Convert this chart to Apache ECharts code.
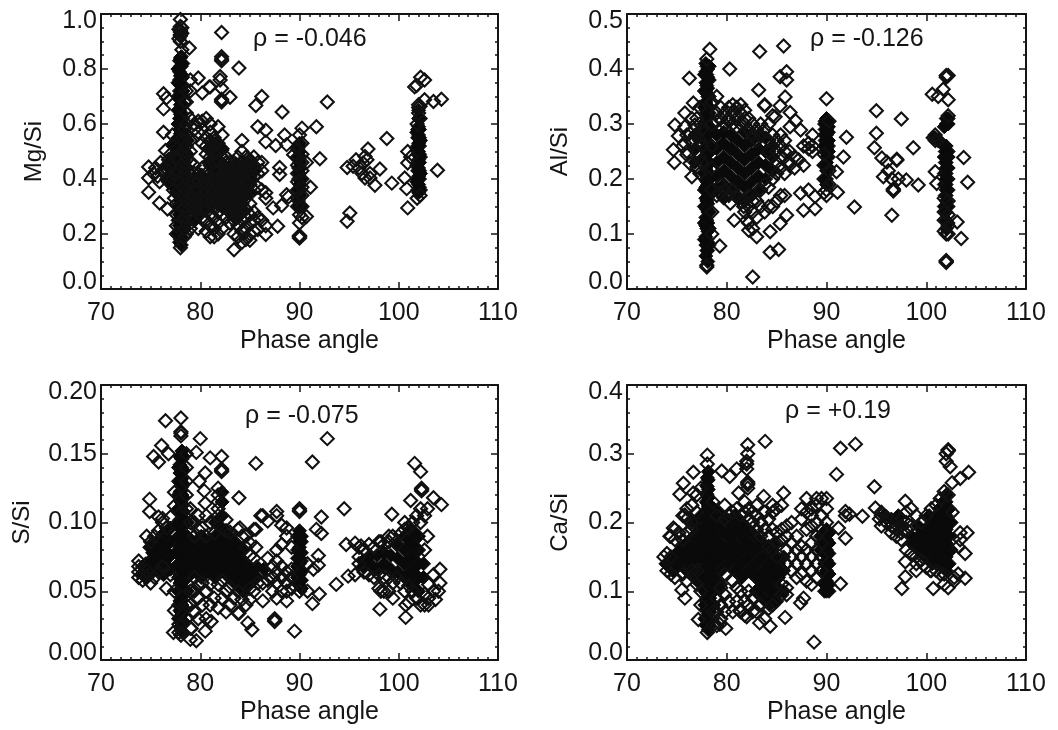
<!DOCTYPE html>
<html><head><meta charset="utf-8">
<style>html,body{margin:0;padding:0;background:#fff}#c{width:1058px;height:730px;filter:blur(0.5px)}</style>
<script src="https://cdn.jsdelivr.net/npm/echarts@6/dist/echarts.min.js"></script></head>
<body><div id="c"></div>
<script>
// every row: [phase angle, value, value, ...]
// *Core rows are the overplotted parts of the clouds, where the marks merge into solid black
const xTicks=[70,80,90,100,110];
const mgCore=[
[77.9,.17,.2,.23,.27,.3,.34,.37,.41,.44,.48,.51,.55,.58,.62,.65,.69,.72,.76,.79,.83],[78.1,.16,.19,.22,.25,.29,.32,.36,.39,.43,.46,.5,.53,.57,.6,.64,.67,.71,.74,.78,.81,.845],
[78,.18,.215,.25,.285,.32,.355,.39,.425,.46,.495,.53,.565,.6,.635,.67,.705,.74,.775,.81,.84],[77.75,.2,.25,.3,.35,.4,.45,.5,.55,.6,.65,.7,.75,.8],[78.25,.22,.27,.32,.37,.42,.47,.52,.57,.62,.67,.72,.77,.82],
[76.6,.4,.45],[77.2,.375,.425,.475,.525],[78.7,.24,.29,.34,.39,.44,.49,.54],[79.4,.25,.3,.35,.4],[80.1,.275,.325,.375,.415],[80.8,.3,.35,.4,.46,.51],[81.5,.325,.375,.43,.48,.53],[82.2,.3,.35,.4,.455,.505],[82.9,.28,.33,.38,.43],[83.6,.255,.305,.355,.405,.455],[84.3,.28,.33,.38,.43],[85,.35,.4,.45],[85.5,.43],
[90,.3,.34,.38,.42,.46,.5,.53],[89.9,.32,.36,.4,.44,.48,.52],[90.1,.3,.36,.4,.44,.48],[102,.35,.38,.41,.44,.47,.5,.53,.56,.59,.62,.65],[102.2,.36,.42,.48,.54],[101.8,.39,.45,.51,.57],[102.1,.37,.4,.43,.46,.49,.52,.55,.58],[101.9,.36,.4,.43,.46,.49,.52,.55,.58]
];
const mgCloud=[
[77.6,.2,.23,.27,.31,.35,.39,.43,.47,.51],[78.4,.19,.22,.26,.3,.34,.38,.42,.46,.5,.54,.58,.68],[78,.15,.9,.925,.94,.955,.98,.935,.92],[77.85,.91,.945],[78.15,.87,.93,.95],
[90,.19,.19,.195,.185,.24,.27,.56],[89.8,.3,.33,.36,.39,.42,.45,.48,.51],[90.25,.26,.3,.34,.37,.4,.43,.46,.49,.53,.585],[102,.64,.66,.67],[102.15,.62,.665,.34],[101.85,.33,.6],
[75.3,.42],[75.5,.44],[75.7,.41],[75.9,.39],[76,.46],[76.2,.43],[76.5,.44],[76.8,.47,.43,.39],[77,.49],[77.1,.45],[77.2,.4,.56],[77.3,.52,.36],[77.4,.33],[77.5,.48,.42],
[78.6,.2,.24,.28,.32,.36,.4,.44,.48,.52,.56,.6,.64,.68,.72],[79,.22,.26,.3,.34,.38,.42,.46,.5,.54,.62,.72,.76],
[79.4,.25,.29,.31,.33,.36,.39,.42,.45,.58,.6],[79.8,.22,.27,.3,.33,.36,.39,.42,.57,.61,.767],[80.2,.26,.29,.32,.35,.38,.41,.44,.53,.58,.61,.713],
[80.6,.21,.25,.29,.32,.35,.38,.42,.49,.52,.55,.62],[81,.19,.23,.27,.31,.34,.37,.4,.45,.48,.51,.54,.57,.6,.735],
[81.4,.19,.22,.26,.3,.33,.36,.39,.43,.46,.49,.52,.55],[81.8,.2,.24,.28,.31,.34,.37,.4,.43,.47,.5,.53,.59],
[82.2,.22,.27,.3,.33,.36,.39,.42,.45,.48,.51,.56],[82.6,.26,.3,.32,.34,.36,.38,.4,.42,.44,.46,.48],[83,.24,.28,.3,.32,.34,.36,.38,.4,.42,.44,.46,.697],
[83.4,.143,.2,.25,.28,.3,.32,.34,.36,.38,.4,.42,.44,.46],[83.8,.19,.23,.27,.3,.32,.34,.36,.38,.4,.42,.45,.48],[84.2,.17,.21,.25,.28,.31,.34,.37,.4,.43,.46,.5,.54],
[84.6,.18,.22,.26,.29,.33,.36,.39,.42,.45,.48],[85,.177,.2,.24,.27,.31,.35,.38,.41,.44,.46,.47],[85.4,.21,.25,.28,.36,.41,.45,.48],[85.8,.216,.26,.37,.42,.46,.59],[86.2,.25,.36,.43,.46,.7],[86.6,.198,.23,.35,.33,.535,.577],
[78.9,.876],[82.15,.933,.836,.83,.845,.73,.69,.68,.685],[83.9,.804],[82,.773,.76],[80.9,.735],[76.3,.71,.655,.57],[76.6,.695],[76.5,.504],[74.8,.444,.404,.352],[75.9,.313],[76.7,.291],
[85.6,.667],[88.25,.644],[92.8,.68],[91.7,.59],[87.6,.522],[88.5,.56],[88.7,.525,.343],[92.05,.474],[89.4,.488],[88,.442,.416],[91.1,.37],[88.9,.335],[88.2,.304],[87.35,.295],[87.8,.228],
[90.7,.264,.46],[94.8,.442,.246],[95.07,.276],[95.7,.47],[95.4,.446],[96.9,.509],[96.6,.482,.404],[96.4,.458],[96,.44],[96.3,.42],[97.1,.404,.42],[97.6,.377],[98.1,.436],[96.8,.47],
[98.8,.547],[99.3,.385],[100.6,.404],[100.8,.365],[100.9,.295,.458,.5],[101.2,.48],[103.9,.432],[104.3,.69],[103.5,.682],[102.6,.688,.76],[102.2,.77],[101.6,.735],[101.8,.74]
];
const alCore=[
[77.9,.06,.08,.095,.115,.13,.15,.165,.185,.2,.22,.235,.255,.27,.29,.305,.325,.34,.36,.375,.395,.41],[78.1,.05,.07,.085,.105,.12,.14,.155,.175,.19,.21,.225,.245,.26,.28,.295,.315,.33,.35,.365,.385,.4],
[78,.07,.09,.11,.125,.145,.16,.18,.195,.215,.23,.25,.265,.285,.3,.32,.335,.355,.37,.39,.405],[77.75,.09,.12,.15,.18,.21,.24,.27,.3,.33,.36,.39],[78.25,.08,.11,.14,.17,.2,.23,.26,.29,.32,.35,.38,.405],
[76.8,.23,.255,.28],[79,.18,.205,.23,.255,.28],[79.7,.165,.19,.215,.24,.265,.285],[80.4,.18,.205,.23,.255,.28],[81.1,.165,.195,.22,.245,.27],[81.8,.16,.185,.21,.235,.26,.285],[82.5,.17,.195,.22,.245,.27],[83.2,.18,.205,.23,.255,.28],[83.9,.2,.225,.25,.275],[84.6,.215,.24,.26],
[90,.19,.215,.24,.265,.29,.31,.2,.23,.255,.28,.3],[89.8,.26,.28,.3],[90.2,.25,.27,.295],[89.85,.2,.225,.25,.27,.29,.305],[90.2,.22,.24,.26,.285,.305],
[102,.11,.14,.16,.18,.2,.22,.24,.26,.3,.31,.125,.15,.17,.19,.21,.23,.25],[101.9,.17,.23,.25],[102.2,.18,.25,.3,.12,.15,.2,.22,.24,.31],[101.8,.15,.19,.21,.24,.26,.295],[100.9,.275],[101.3,.27]
];
const alCloud=[
[78.3,.436],[78,.043,.04,.418],[90,.17,.18,.346],[89.75,.175,.2,.225,.245],[90.25,.19,.215,.305],
[102,.052,.05,.048,.1,.388,.385],[101.8,.105,.125,.14,.165],[102.2,.1,.115,.135,.16,.315,.388],
[75.6,.26],[76,.28,.25],[76.5,.31,.27],[77,.222,.25,.28,.31],[77.3,.21,.24,.27,.3,.33],[77.5,.23,.26,.29],
[78.5,.1,.14,.18,.22,.26,.3,.34],[79,.17,.305,.32,.35],[79.4,.19,.31,.33],[79.8,.18,.3,.32],
[80.2,.17,.305,.31,.33],[80.6,.18,.3,.32,.335],[81,.17,.295,.31,.33],[81.4,.16,.3,.32,.335],
[81.8,.14,.16,.31,.3,.325],[82.2,.12,.15,.17,.29,.31],[82.6,.11,.14,.16,.28,.3],[83,.13,.16,.27,.29],
[83.4,.15,.18,.28,.3],[83.8,.14,.19,.29],[84.2,.15,.185,.3,.25,.27],[84.6,.15,.2,.28,.315],[85,.16,.21,.23,.25,.27],[85.4,.17,.22,.24,.26,.28],[85.8,.17,.21,.25,.27],[86.3,.23,.25,.225],[86.8,.24,.22],[87.2,.235],[87.7,.225,.26],[88.2,.265,.255],[88.6,.26,.28,.25],
[79.3,.078,.174],[76.25,.383],[80.3,.4],[83.3,.432],[85.7,.442],[83.2,.362],[83.8,.333,.335],[86,.395,.38,.134],[85.35,.386,.333,.119],[85.85,.349],[84.85,.313],[86.35,.321,.295],[86.9,.306],[87.4,.289,.174],
[92,.276],[91.7,.24],[91,.213],[91.1,.176],[92.8,.149],[95,.324,.283],[94.8,.257],[97.5,.309],[98.7,.257],[98,.198],[99.2,.189],[96.55,.134,.2],[95.55,.238],[96.05,.231],[97.05,.234,.236],[96.2,.215],[95.7,.204],[97.2,.2],[96.7,.18,.182,.178],
[100.6,.354],[101.2,.35,.27],[101.7,.363],[102.2,.344],[100.7,.275],[100.9,.28,.27,.213],[103.75,.239],[104.15,.194],[103.1,.122],[103.5,.092],[101.05,.192],
[80.75,.125],[81.7,.15],[82,.125],[82.2,.107],[83,.095],[84.35,.104,.067],[85.2,.072],[82.6,.022],[87.7,.143],[88.85,.146,.168],[88.2,.18],[80.35,.156],[76.65,.338],[74.8,.298],[74.65,.253],[74.75,.23],[75.15,.278],[75.8,.32,.295,.265],[76.8,.298],[76.3,.283,.228],[76,.244],[76.5,.204]
];
const sCore=[
[77.95,.024,.03,.036,.043,.05,.056,.062,.07,.076,.082,.09,.096,.102,.11,.116,.122,.13,.136,.142,.148],[78.15,.021,.027,.033,.04,.046,.053,.06,.066,.072,.08,.086,.092,.1,.106,.112,.12,.126,.132,.14,.146,.152],
[78.05,.027,.035,.043,.051,.059,.067,.075,.083,.091,.099,.107,.115,.123,.131,.139,.147],[77.8,.03,.04,.05,.06,.07,.08,.09,.1,.11,.12,.13,.14],[78.3,.028,.038,.048,.058,.068,.078,.088,.098,.108,.118,.128,.138,.148],
[74.2,.062,.068],[74.9,.062,.072,.082],[75.6,.066,.076,.086],[76.3,.062,.072,.082,.092],[77,.066,.076,.086,.096],[78.7,.05,.06,.07,.08,.09,.1],[79.4,.065,.075,.085],[80.1,.06,.07,.08,.09],[80.8,.065,.075,.085],[81.5,.06,.07,.08,.09,.1],[82.2,.065,.075,.085,.095,.105,.115,.122],[82.9,.06,.07,.08,.09],[83.6,.055,.065,.075,.085],[84.3,.05,.06,.07,.08],[85,.055,.065],[85.7,.06,.068],[86.4,.066],
[74.5,.06,.07],[75.2,.068,.078],[75.9,.07,.08],[76.6,.068,.078,.088],[79.1,.07,.08],[79.8,.075,.065],[80.5,.07,.08],[81.2,.07,.08],[81.9,.075,.085],[82.6,.07,.08],[83.3,.06,.07,.08],[84,.055,.065,.075],[84.6,.06,.07],
[90,.054,.062,.07,.078,.086,.094,.058,.066,.074,.082,.09],[90.2,.058,.072,.086,.052,.064,.078,.09],[89.8,.06,.074,.056,.068,.08,.09],
[96.4,.072,.068],[97.1,.07,.076],[97.8,.066,.076],[98.5,.07,.078],[99.2,.066,.076],[99.9,.064,.074,.084],[100.6,.06,.07,.08,.09],[101.3,.055,.065,.075,.085,.095],[102,.05,.06,.07,.08,.09],[102.5,.06,.07]
];
const sCloud=[
[78.05,.018,.163,.165,.166,.176],[77.85,.02,.026],[78.25,.02,.026],[90,.05,.108,.11,.109],
[73.8,.06,.064,.068,.072],[74.2,.058],[74.6,.06,.065,.09],[75,.056,.086],[75.4,.06,.09],[75.8,.064,.094],
[76.2,.068,.1],[76.6,.052,.096],[77,.062,.104],[77.4,.036,.05,.112,.122],
[78.6,.03,.04,.11,.12,.13,.14,.15],[79,.023,.04,.05,.1,.11],[79.4,.035,.05,.06,.09,.1],
[79.8,.03,.045,.055,.095,.105],[80.2,.04,.056,.096],[80.6,.03,.05,.09,.105],
[81,.04,.055,.1],[81.4,.045,.092],[81.8,.038,.055,.105,.11,.115,.12,.125],
[82.2,.045,.058],[82.6,.035,.05,.094,.102],[83,.04,.053,.093],
[83.4,.045],[83.8,.034,.05,.095],[84.2,.044,.09],[84.6,.04,.082,.09],
[85,.044,.052,.076,.085],[85.4,.05,.074,.095],[85.8,.056],[86.3,.043,.056,.105],[86.8,.058,.074,.101],[87.3,.05,.06,.068],
[87.7,.045,.056,.064,.072,.08,.105,.108],[88.2,.05,.06,.068,.084,.098],[88.7,.043,.05,.056,.064,.09,.096],[89.2,.052,.06,.066,.082],
[96,.07,.075,.082],[96.5,.064,.08],[97,.062,.084],[97.5,.06,.082],[98,.052,.062,.086],[98.5,.05,.06,.084],[99,.05,.06,.086],[99.4,.045,.056,.09],
[99.8,.06,.084],[100.2,.056,.092],[100.6,.05,.095,.1],[101,.042,.054,.096],
[101.4,.05,.1],[101.8,.045,.105],[102.2,.04,.1,.11],[102.6,.04,.048,.08,.105],
[76.5,.174],[76.1,.156],[75.3,.148],[75.8,.144],[76.8,.15],[80,.161],[79.6,.151,.014],[81,.147],[82.15,.148,.138,.137,.139],[80.5,.136,.114,.021],[79.9,.13],[80.4,.123],[83.9,.118,.034],[85.6,.143],[91.3,.144,.041],[92.8,.161],[74.9,.117,.108],[94.5,.11],[92.2,.104,.092],[91.7,.095],[91.9,.076,.069],[91.4,.066],[90.8,.07,.05],[94.7,.084],[94.9,.061],[93.7,.055],[92,.048],[89.5,.021],[87.5,.03,.029,.028],[85.2,.022],[84.8,.027],[81.1,.028],[79,.015],[79.1,.023],[77.3,.02],[85.6,.095,.082],[86.1,.105],[84,.096],[75.8,.104],[76.2,.103],
[99.3,.106],[101.6,.143],[102.2,.137],[102.3,.124,.125,.123],[103.5,.118],[104.3,.113],[101.2,.116],[98.1,.037],[100.7,.031,.04],[104.15,.066,.056],[103.5,.062,.05],[103,.04,.045,.055],[102.9,.09,.11],[103.7,.044],[104,.05],[95.6,.085],[96.2,.083],[95.6,.062],[98.2,.086,.05],[99,.09]
];
const caCore=[
[77.95,.05,.062,.074,.086,.098,.11,.122,.134,.146,.158,.17,.182,.194,.206,.218,.23,.242,.254],[78.15,.044,.056,.068,.08,.092,.104,.116,.128,.14,.152,.164,.176,.188,.2,.212,.224,.236,.248,.262,.274],
[78.05,.05,.06,.072,.084,.096,.108,.12,.132,.144,.156,.168,.18,.192,.204,.216,.228,.24,.252,.265],[77.8,.06,.08,.1,.12],[78.3,.05,.07,.09,.11],
[73.9,.14],[74.6,.13,.15],[75.3,.14,.16],[76,.13,.15,.17],[76.7,.12,.14,.16,.18,.2],[77.4,.11,.13,.15,.17,.19,.21],
[78.7,.08,.1,.12,.14,.16,.18,.2,.22],[79.4,.11,.13,.15,.17,.19,.21],[80.1,.14,.16,.18,.2],[80.8,.13,.15,.17,.19,.21],[81.5,.12,.14,.16,.18,.2],[82.2,.13,.15,.17,.19],[82.9,.1,.12,.14,.16,.18],[83.6,.09,.11,.13,.15,.17],[84.3,.08,.1,.12,.14,.16],[85,.085,.105,.125],[85.7,.13,.15,.1],[85.2,.1,.12,.14],[84.8,.09,.11,.13,.15,.17],
[90,.1,.115,.13,.145,.16,.175,.19,.108,.122,.137,.152,.167,.182],[89.8,.11,.14,.17,.1,.125,.155,.185],[90.25,.11,.14,.17,.1,.125,.155,.185],[89.4,.16,.18],
[95.8,.21],[96.5,.205],[97.2,.2,.21],[98.5,.17,.18],[99.2,.16,.18,.195],[99.9,.15,.17,.19],[100.6,.14,.16,.18,.2],[101.3,.14,.16,.18,.2,.22],[102,.13,.15,.17,.19,.21,.23,.24],[102.5,.16,.2],
[101,.15,.17,.19,.21],[101.7,.15,.17,.19,.21,.23],[99.6,.165,.18],[100.3,.15,.17,.19,.21],[102.3,.14,.18,.22]
];
const caCloud=[
[78.05,.04,.285,.298],[90,.2,.22,.235],
[73.7,.15],[74,.13,.155],[74.4,.125,.15,.18],[74.8,.12,.175,.19],[75.2,.185],[75.6,.125,.175,.21],[76,.115,.185,.205,.22],
[76.5,.13,.19,.2,.225],[77,.11,.13,.215,.24],[77.4,.08,.1,.25],
[78.6,.05,.07,.23],[79,.05,.07,.09,.21],[79.4,.06,.08,.105],[79.8,.07,.095,.125,.205,.225],
[80.2,.085,.21],[80.6,.07,.115,.215],[81,.085,.105,.22],[81.4,.07,.1,.21],[81.8,.065,.085,.215,.23],
[82.2,.08,.1,.205,.22],[82.6,.07,.09,.2,.215],[83,.07,.19,.21,.225],[83.4,.08,.18,.2],[83.8,.06,.19,.215],
[84.2,.075,.165,.18,.205],[84.6,.08,.16,.19,.215,.225],[85,.15,.17,.185,.22],[85.5,.095,.11,.175,.19,.225],[86,.095,.105,.14,.16,.18,.195],[86.5,.13,.15,.17,.2],
[87,.12,.14,.16,.18],[87.5,.125,.15,.165,.205,.22],[88,.115,.14,.16,.19,.215,.235],[88.5,.11,.13,.15,.17,.195,.22,.21],[89,.12,.14,.16,.18,.2,.225,.235],[89.5,.13,.15,.17,.19,.21,.235],
[95.5,.215,.21,.195],[96,.208,.2],[96.5,.195,.185],[97,.19,.18],[97.5,.205,.195,.185,.175],[98,.2,.19,.16,.215],[98.5,.195,.155,.22],[99,.15,.14,.21],[99.5,.2,.145],
[100,.21,.135],[100.5,.22,.13],[101,.225,.13],[101.4,.235,.125],[101.8,.245,.125,.11],[102.2,.24,.105],
[83.85,.318],[82.1,.313,.3,.257,.255,.259,.25],[82,.289,.285,.278,.063],[81,.278],[79.5,.275],[80.3,.267],[81.2,.243],[83.7,.238],[85.7,.243],[91.4,.308,.111],[92.9,.314],[91,.27],[94.8,.252],[88.75,.026],[91.9,.177,.216,.21],[91.2,.192],[92.3,.212],[93.6,.209],[94.9,.221],[95.3,.205],
[97.55,.104],[97.9,.121,.143,.231],[100.7,.104],[102.2,.305,.306,.304],[102,.289,.3],[102.4,.281],[104.25,.273],[103.4,.264],[102.6,.258],[104.1,.185],[103.4,.185,.175],[103.9,.155,.119],[103.2,.165,.125],[102.8,.12,.115],[102.6,.215],
[75.8,.09],[75.5,.102],[76.65,.273,.243],[75.65,.257],[75.3,.241],[75.8,.211],[74.65,.192],[74.3,.18],[77.15,.059],[79.9,.046],[79.3,.052],[85.85,.062],[84.35,.049],[83.3,.054],[81.3,.072],[87.7,.09],[87.4,.083],[99,.13],[100.4,.13]
];
const panels=[
 {name:'Mg/Si',note:'ρ = -0.046',max:1,step:.2,minor:4,dec:1,left:101,top:14,width:397,gap:55,nx:253,ny:41,core:mgCore,cloud:mgCloud},
 {name:'Al/Si',note:'ρ = -0.126',max:.5,step:.1,minor:4,dec:1,left:627,top:14,width:399,gap:55,nx:810,ny:41,core:alCore,cloud:alCloud},
 {name:'S/Si',note:'ρ = -0.075',max:.2,step:.05,minor:5,dec:2,left:101,top:385,width:397,gap:67,nx:245,ny:418,core:sCore,cloud:sCloud},
 {name:'Ca/Si',note:'ρ = +0.19',max:.4,step:.1,minor:5,dec:1,left:627,top:385,width:399,gap:55,nx:785,ny:413,core:caCore,cloud:caCloud}
];
const ink='#151515',font='"Liberation Sans",Arial,sans-serif';
const pts=rows=>rows.flatMap(r=>r.slice(1).map(v=>[r[0],v]));
const grid=[],xAxis=[],yAxis=[],series=[],title=[];
const line={show:true,onZero:false,lineStyle:{color:ink,width:2}};
panels.forEach((p,i)=>{
 grid.push({left:p.left,top:p.top,width:p.width,height:275});
 const xb={type:'value',min:xTicks[0],max:xTicks[xTicks.length-1],interval:10,gridIndex:i,splitLine:{show:false},axisLine:line,
  axisTick:{show:true,inside:true,length:7,lineStyle:{color:ink,width:1.5}},minorTick:{show:true,splitNumber:10,length:3,lineStyle:{color:ink,width:1.5}}};
 const yb={type:'value',min:0,max:p.max,interval:p.step,gridIndex:i,splitLine:{show:false},axisLine:line,
  axisTick:{show:true,inside:true,length:7,lineStyle:{color:ink,width:1.5}},minorTick:{show:true,splitNumber:p.minor,length:3,lineStyle:{color:ink,width:1.5}}};
 xAxis.push({...xb,position:'bottom',name:'Phase angle',nameLocation:'middle',nameGap:40,nameTextStyle:{color:ink,fontSize:25,fontFamily:font,padding:[0,0,0,20]},
  axisLabel:{show:true,color:ink,fontSize:25,fontFamily:font,margin:12}});
 xAxis.push({...xb,position:'top',axisLabel:{show:false}});
 yAxis.push({...yb,position:'left',name:p.name,nameLocation:'middle',nameGap:p.gap,nameTextStyle:{color:ink,fontSize:24,fontFamily:font},
  axisLabel:{show:true,color:ink,fontSize:25,lineHeight:14,fontFamily:font,margin:4,verticalAlignMinLabel:'bottom',verticalAlignMaxLabel:'top',formatter:v=>v.toFixed(p.dec)}});
 yAxis.push({...yb,position:'right',axisLabel:{show:false}});
 const common={type:'scatter',xAxisIndex:i*2,yAxisIndex:i*2,symbol:'diamond',silent:true,animation:false,clip:false};
 series.push({...common,data:pts(p.core),symbolSize:14,itemStyle:{color:'#0a0a0a',borderColor:'#0a0a0a',borderWidth:1,opacity:1}});
 series.push({...common,data:pts(p.cloud),symbolSize:13,itemStyle:{color:'rgba(0,0,0,0)',borderColor:'#111',borderWidth:2.1,opacity:1}});
 title.push({text:p.note,left:p.nx,top:p.ny-14,padding:0,textStyle:{color:ink,fontSize:25,fontWeight:'normal',fontFamily:font}});
});
const chart=echarts.init(document.getElementById('c'),null,{renderer:'canvas'});
chart.setOption({animation:false,backgroundColor:'#fff',grid,xAxis,yAxis,series,title});
</script></body></html>
